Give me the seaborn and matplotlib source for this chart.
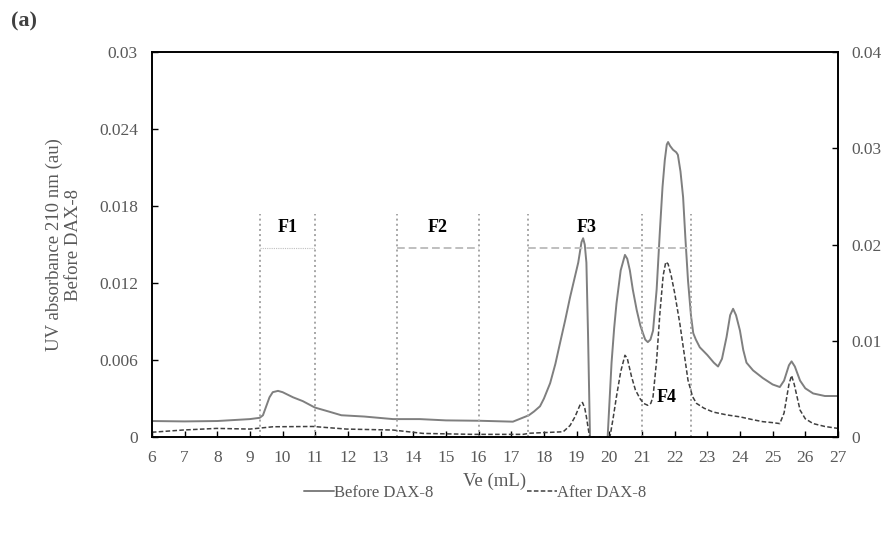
import numpy as np
import pandas as pd
import matplotlib
matplotlib.use("Agg")
import matplotlib.pyplot as plt
import seaborn as sns

# Before DAX-8 (left axis)
ve_before = [6.0, 7.0, 8.0, 9.0, 9.3, 9.4, 9.5, 9.6, 9.7, 9.86, 10.0, 10.32, 10.62, 10.99,
             11.4, 11.8, 12.5, 13.38, 14.2, 15.0, 16.04, 17.05, 17.54, 17.7, 17.88, 18.0,
             18.19, 18.35, 18.49, 18.65, 18.8, 19.05, 19.15, 19.2, 19.25, 19.3, 19.35,
             19.41, 19.95, 20.07, 20.15, 20.22, 20.35, 20.48, 20.55, 20.63, 20.72, 20.84,
             20.95, 21.03, 21.1, 21.18, 21.26, 21.34, 21.45, 21.55, 21.63, 21.7, 21.76,
             21.8, 21.86, 21.95, 22.05, 22.1, 22.18, 22.26, 22.33, 22.41, 22.5, 22.57,
             22.65, 22.77, 23.0, 23.2, 23.33, 23.45, 23.59, 23.7, 23.79, 23.88, 24.0,
             24.1, 24.2, 24.4, 24.7, 25.0, 25.22, 25.35, 25.5, 25.58, 25.68, 25.84, 26.0,
             26.24, 26.6, 27.0]
uv_before = [0.00125, 0.00122, 0.00125, 0.0014, 0.0015, 0.0017, 0.0024, 0.0031, 0.0035,
             0.0036, 0.0035, 0.0031, 0.0028, 0.0023, 0.002, 0.0017, 0.0016, 0.0014,
             0.0014, 0.0013, 0.00127, 0.0012, 0.0017, 0.002, 0.0024, 0.003, 0.0042,
             0.0057, 0.0073, 0.0091, 0.0109, 0.0136, 0.0152, 0.0155, 0.015, 0.0136,
             0.008, 0.0, 0.0, 0.0058, 0.0085, 0.0104, 0.013, 0.0142, 0.0139, 0.013,
             0.0115, 0.0099, 0.0087, 0.0081, 0.0076, 0.0074, 0.0076, 0.0083, 0.0115,
             0.0161, 0.0195, 0.0216, 0.0228, 0.023, 0.0227, 0.0224, 0.0222, 0.022,
             0.0207, 0.0187, 0.0155, 0.0122, 0.0095, 0.0081, 0.0076, 0.007, 0.0064,
             0.0058, 0.0055, 0.0061, 0.0078, 0.0095, 0.01, 0.0095, 0.0083, 0.0068,
             0.0058, 0.0052, 0.0046, 0.0041, 0.0039, 0.0044, 0.0056, 0.0059, 0.0055,
             0.0044, 0.0038, 0.0034, 0.0032, 0.0032]

# After DAX-8 (right axis)
ve_after = [6.0, 6.95, 7.98, 9.0, 9.71, 10.93, 11.96, 13.38, 14.3, 15.83, 17.36, 17.57,
            18.59, 18.8, 18.95, 19.1, 19.18, 19.25, 19.3, 19.36, 19.4, 20.02, 20.12,
            20.22, 20.35, 20.48, 20.55, 20.68, 20.8, 20.94, 21.05, 21.18, 21.27, 21.34,
            21.45, 21.55, 21.65, 21.73, 21.8, 21.9, 22.0, 22.16, 22.3, 22.41, 22.55,
            22.67, 22.9, 23.18, 23.6, 24.0, 24.4, 24.7, 25.0, 25.22, 25.35, 25.5, 25.58,
            25.66, 25.84, 26.0, 26.24, 26.6, 27.0]
uv_after = [0.0005, 0.00073, 0.0009, 0.00083, 0.00107, 0.0011, 0.00083, 0.00073, 0.00038,
            0.00028, 0.00028, 0.0004, 0.00055, 0.0012, 0.0021, 0.0033, 0.0036, 0.003,
            0.0021, 0.0008, 0.0, 0.0, 0.002, 0.0042, 0.0068, 0.0085, 0.0082, 0.0063,
            0.0049, 0.004, 0.0035, 0.0033, 0.0035, 0.0042, 0.008, 0.0129, 0.0168,
            0.0182, 0.018, 0.0167, 0.015, 0.0118, 0.0085, 0.0059, 0.0042, 0.0035, 0.003,
            0.0026, 0.0023, 0.0021, 0.0018, 0.0016, 0.0015, 0.0014, 0.0025, 0.0055,
            0.0064, 0.0055, 0.0028, 0.0019, 0.0014, 0.0011, 0.0009]

# fraction windows (Ve, mL)
fraction_edges = [9.3, 11.0, 13.5, 16.0, 17.5, 21.0, 22.5]
fraction_names = ["F1", "F2", "F3", "F4"]
fraction_spans = [(9.3, 11.0), (13.5, 16.0), (17.5, 22.45)]
label_pos = [(10.15, 0.0157), (14.75, 0.0157), (19.3, 0.0157), (21.75, 0.0024)]

sns.set_style("ticks")
plt.rcParams["font.family"] = ["Liberation Serif", "DejaVu Serif"]
text_col = "#595959"

fig = plt.figure(figsize=(8.83, 5.33), dpi=100)
ax = fig.add_axes([0.172, 0.18, 0.777, 0.722])
ax2 = ax.twinx()

df_b = pd.DataFrame({"ve": ve_before, "uv": uv_before})
df_a = pd.DataFrame({"ve": ve_after, "uv": uv_after})
sns.lineplot(data=df_b, x="ve", y="uv", ax=ax, color="#7f7f7f", lw=1.4, label="Before DAX-8", legend=False)
sns.lineplot(data=df_a, x="ve", y="uv", ax=ax2, color="#404040", lw=1.1, ls=(0, (3, 1.5)), label="After DAX-8", legend=False)

ax.vlines(fraction_edges, 0, 0.0174, colors="#a6a6a6", linestyles=":", lw=1.4)
styles = [(0, (1, 1)), (0, (4, 2)), (0, (4, 2))]
widths = [0.8, 1.4, 1.4]
for (a, b), st, w in zip(fraction_spans, styles, widths):
    ax.hlines(0.0147, a, b, colors="#bfbfbf", linestyles=[st], lw=w)
for name, (x, y) in zip(fraction_names, label_pos):
    ax.text(x, y, name, ha="center", va="bottom", fontsize=13, fontweight="bold", color="black")

ax.set_xlim(6, 27)
ax.set_ylim(0, 0.03)
ax2.set_ylim(0, 0.04)
ax.set_xticks(range(6, 28))
ax.set_yticks([0, 0.006, 0.012, 0.018, 0.024, 0.03])
ax.set_yticklabels(["0", "0.006", "0.012", "0.018", "0.024", "0.03"])
ax2.set_yticks([0, 0.01, 0.02, 0.03, 0.04])
ax2.set_yticklabels(["0", "0.01", "0.02", "0.03", "0.04"])

for a in (ax, ax2):
    a.tick_params(direction="in", length=4, width=1, labelsize=12.5, labelcolor=text_col, color="black")
    for s in a.spines.values():
        s.set_visible(True)
        s.set_color("black")
        s.set_linewidth(1.2)
ax.tick_params(axis="y", pad=10)
ax2.tick_params(axis="y", pad=10)
ax.tick_params(axis="x", pad=9)

ax.set_xlabel("Ve (mL)", fontsize=13.5, color=text_col, labelpad=5)
ax.set_ylabel("UV absorbance 210 nm (au)\nBefore DAX-8", fontsize=13.5, color=text_col, labelpad=12)
ax2.set_ylabel("")

h1, l1 = ax.get_legend_handles_labels()
h2, l2 = ax2.get_legend_handles_labels()
fig.legend(h1 + h2, l1 + l2, loc="center", bbox_to_anchor=(0.538, 0.075), ncol=2, frameon=False,
           fontsize=12, handlelength=1.8, handletextpad=0.0, columnspacing=5.6, labelcolor=text_col)

fig.text(0.012, 0.95, "(a)", fontsize=16, fontweight="bold", color="#404040")

fig.savefig("out.png", dpi=100)
